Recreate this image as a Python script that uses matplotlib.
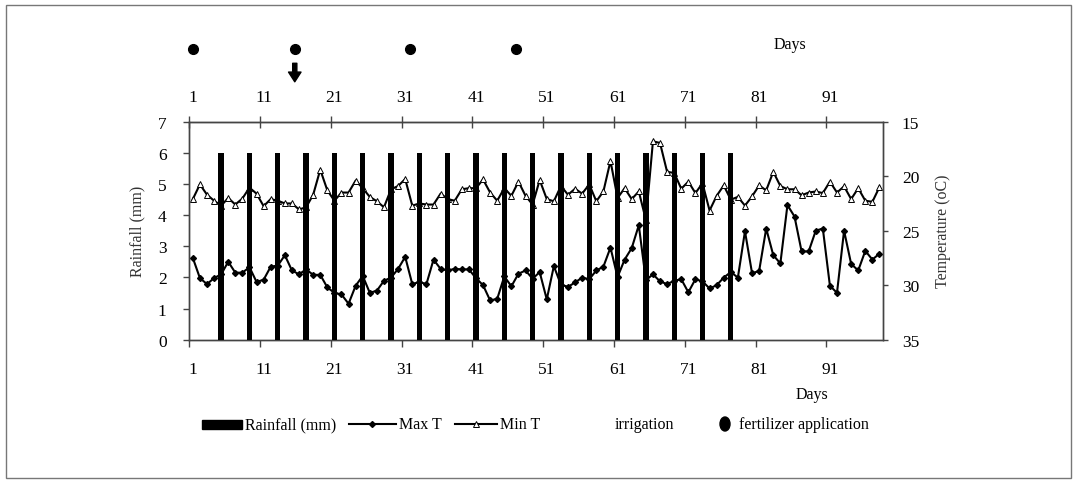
import matplotlib
matplotlib.use('Agg')
import matplotlib.pyplot as plt
import numpy as np
from matplotlib.transforms import blended_transform_factory
from matplotlib.lines import Line2D
from matplotlib.patches import Rectangle, Ellipse

plt.rcParams['font.family'] = ['Liberation Serif', 'DejaVu Serif']

# ---------------- data ----------------
days = list(range(1, 99))
max_t = [27.5, 29.35, 29.9, 29.35, 29.0, 27.85, 28.85, 28.85, 28.35, 29.7,
         29.5, 28.3, 28.2, 27.25, 28.65, 29.0, 28.55, 29.05, 29.05, 30.2,
         30.7, 30.85, 31.7, 30.05, 29.15, 30.7, 30.5, 29.6, 29.3, 28.5,
         27.4, 29.9, 29.7, 29.9, 27.65, 28.5, 28.65, 28.5, 28.55, 28.55,
         29.35, 30.0, 31.4, 31.25, 29.2, 30.1, 28.95, 28.65, 29.4, 28.8,
         31.3, 28.25, 29.95, 30.15, 29.75, 29.3, 29.45, 28.65, 28.3, 26.55,
         29.25, 27.65, 26.6, 24.5, 29.55, 29.0, 29.65, 29.9, 29.6, 29.45,
         30.65, 29.45, 29.65, 30.3, 30.0, 29.3, 28.8, 29.3, 25.05, 28.9,
         28.7, 24.8, 27.25, 28.0, 22.65, 23.7, 26.9, 26.9, 25.0, 24.8,
         30.05, 30.7, 25.0, 28.05, 28.65, 26.85, 27.65, 27.1]
min_t = [22.1, 20.75, 21.7, 22.25, 22.7, 22.0, 22.6, 22.05, 21.05, 21.6,
         22.75, 22.1, 22.25, 22.5, 22.5, 23.05, 22.85, 21.7, 19.4, 21.3,
         22.25, 21.5, 21.5, 20.4, 21.1, 21.9, 22.3, 22.85, 21.2, 20.9,
         20.26, 22.7, 22.5, 22.6, 22.6, 21.6, 22.1, 22.25, 21.2, 21.1,
         21.1, 20.3, 21.5, 22.25, 21.1, 21.8, 20.5, 21.8, 22.6, 20.35,
         22.1, 22.3, 20.9, 21.7, 21.15, 21.6, 20.75, 22.3, 21.4, 18.6,
         22.0, 21.1, 22.1, 21.4, 24.0, 16.8, 16.95, 19.6, 19.7, 21.15,
         20.5, 21.55, 20.65, 23.15, 21.8, 20.85, 22.15, 21.9, 22.7, 21.85,
         20.85, 21.3, 19.6, 20.9, 21.2, 21.2, 21.75, 21.5, 21.4, 21.55,
         20.5, 21.5, 20.93, 22.1, 21.1, 22.25, 22.35, 21.0]
rain_days = [5, 9, 13, 17, 21, 25, 29, 33, 37, 41, 45, 49, 53, 57, 61, 65, 69, 73, 77]
rain_mm = [6, 6, 6, 6, 6, 6, 6, 6, 6, 6, 6, 6, 6, 6, 6, 6, 6, 6, 6]
fert_days = [1, 15.4, 31.7, 46.7]
irrig_days = [15.4]
tick_days = [1, 11, 21, 31, 41, 51, 61, 71, 81, 91]
rain_ticks = [0, 1, 2, 3, 4, 5, 6, 7]
temp_ticks = [15, 20, 25, 30, 35]

# ---------------- figure ----------------
W, H = 1077, 485
fig = plt.figure(figsize=(W / 100, H / 100), dpi=100)
ax = fig.add_axes([189.3 / W, 1 - 340.7 / H, 693.7 / W, 218 / H])
ax_t = ax.twinx()
ax.set_zorder(ax_t.get_zorder() + 1)
ax.patch.set_visible(False)

spine_c = '#444444'
tick_fs = 12.5
leg_fs = 11.5

# temperature lines (right axis, inverted)
ax_t.plot(days, max_t, color='black', lw=1.5, marker='D', ms=3.0,
          mfc='black', mec='black', zorder=3)
ax_t.plot(days, min_t, color='black', lw=1.5, marker='^', ms=4.6,
          mfc='white', mec='black', mew=0.7, zorder=3)
ax_t.set_ylim(35, 15)
ax_t.set_yticks(temp_ticks)
ax_t.tick_params(axis='y', direction='out', length=3.6, width=1,
                 color=spine_c, labelsize=tick_fs, pad=10)

# rainfall bars (left axis)
ax.bar(rain_days, rain_mm, width=0.75, color='black', zorder=4)
ax.set_ylim(0, 7)
ax.set_xlim(0.5, 98.5)
ax.set_yticks(rain_ticks)
ax.tick_params(axis='y', direction='out', length=4.3, width=1,
               color=spine_c, labelsize=tick_fs, pad=12)

major_x = [d - 0.5 for d in tick_days]
ax.set_xticks(major_x)
ax.set_xticklabels([''] * len(major_x))
ax.set_xticks(tick_days, minor=True)
ax.set_xticklabels([str(d) for d in tick_days], minor=True)
ax.tick_params(axis='x', which='major', direction='out', length=5,
               width=1, color=spine_c)
ax.tick_params(axis='x', which='minor', length=0, labelsize=tick_fs, pad=15)

for a in (ax, ax_t):
    for s in a.spines.values():
        s.set_color(spine_c)
        s.set_linewidth(1)

# top axis
sec = ax.secondary_xaxis('top')
sec.set_xticks(major_x)
sec.set_xticklabels([''] * len(major_x))
sec.set_xticks(tick_days, minor=True)
sec.set_xticklabels([str(d) for d in tick_days], minor=True)
sec.tick_params(axis='x', which='major', direction='inout', length=9,
                width=1, color=spine_c)
sec.tick_params(axis='x', which='minor', length=0, labelsize=tick_fs, pad=12)
sec.spines['top'].set_color(spine_c)

# axis labels
ax.set_ylabel('Rainfall (mm)', fontsize=11.5, color='#333333')
ax.yaxis.set_label_coords(-0.064, 0.5)
ax_t.set_ylabel('Temperature (oC)', fontsize=11.5, color='#333333')
ax_t.yaxis.set_label_coords(1.075, 0.5)
fig.text(790 / W, 1 - 45 / H, 'Days', fontsize=leg_fs, ha='center', va='center')
fig.text(812 / W, 1 - 395 / H, 'Days', fontsize=leg_fs, ha='center', va='center')

# fertilizer applications and irrigation arrow above the plot
trans = blended_transform_factory(ax.transData, ax.transAxes)
ax.plot(fert_days, np.full(len(fert_days), 1.333), linestyle='none',
        marker='o', ms=7, color='black', transform=trans, clip_on=False)
for d in irrig_days:
    ax.annotate('', xy=(d, 1.183), xytext=(d, 1.268), xycoords=trans,
                textcoords=trans,
                arrowprops=dict(facecolor='black', edgecolor='black',
                                width=3, headwidth=9, headlength=7, shrink=0))

# ---------------- legend (manual row) ----------------
ly = 1 - 425 / H
fig.add_artist(Rectangle((202 / W, 1 - 430 / H), 40 / W, 9 / H,
                         transform=fig.transFigure, color='black'))
fig.text(245 / W, ly, 'Rainfall (mm)', fontsize=leg_fs, va='center')
fig.add_artist(Line2D([349 / W, 396 / W], [ly, ly], transform=fig.transFigure,
                      color='black', lw=1.5))
fig.add_artist(Line2D([372 / W], [ly], transform=fig.transFigure, marker='D',
                      ms=3.0, color='black', linestyle='none'))
fig.text(399 / W, ly, 'Max T', fontsize=leg_fs, va='center')
fig.add_artist(Line2D([455 / W, 497 / W], [ly, ly], transform=fig.transFigure,
                      color='black', lw=1.5))
fig.add_artist(Line2D([476 / W], [ly], transform=fig.transFigure, marker='^',
                      ms=4.6, mfc='white', mec='black', mew=0.7,
                      linestyle='none'))
fig.text(500 / W, ly, 'Min T', fontsize=leg_fs, va='center')
fig.text(615 / W, ly, 'irrigation', fontsize=leg_fs, va='center')
fig.add_artist(Ellipse((725 / W, ly), 10 / W, 14 / H,
                       transform=fig.transFigure, color='black'))
fig.text(739 / W, ly, 'fertilizer application', fontsize=leg_fs, va='center')

# outer frame
fig.add_artist(Rectangle((6 / W, 6 / H), 1 - 12 / W, 1 - 12 / H,
                         transform=fig.transFigure, fill=False,
                         edgecolor='#777777', lw=1))

fig.savefig('out.png', dpi=100)
